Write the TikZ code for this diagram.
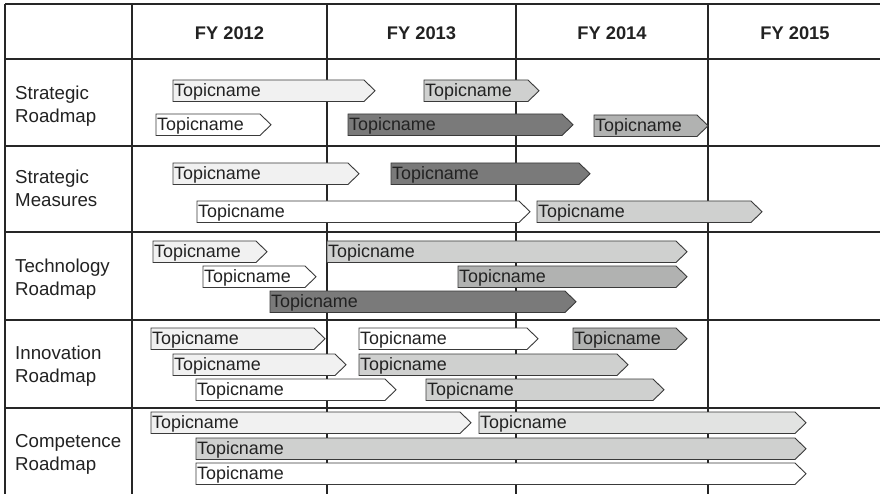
\documentclass[tikz,border=0pt]{standalone}
\usepackage{fontspec}
\setmainfont{Liberation Sans}
\definecolor{gridc}{HTML}{262626}
\definecolor{barc}{HTML}{3A3A3A}
\definecolor{txtc}{HTML}{222222}
\definecolor{lightest}{HTML}{F1F1F1}
\definecolor{pale}{HTML}{E2E3E2}
\definecolor{lgray}{HTML}{CFD0CF}
\definecolor{mid}{HTML}{B1B2B1}
\definecolor{dark}{HTML}{7A7A7A}
% one roadmap bar: #1 name, #2 left x, #3 tip x, #4 top y, #5 fill colour
\newcommand\topicbar[5]{%
  \draw[barline, fill=#5] (#2,#4) -- (#3-11,#4) -- (#3,#4+10.75)
    -- (#3-11,#4+21.5) -- (#2,#4+21.5) -- cycle;
  \node[topic] (#1) at (#2+1,#4+16.7) {Topicname};}
\begin{document}
\begin{tikzpicture}[x=1pt,y=-1pt,
  gridline/.style={draw=gridc, line width=1.8pt},
  barline/.style={draw=barc, line width=0.9pt},
  topic/.style={anchor=base west, inner sep=0pt, text=txtc,
    font=\fontsize{17.9}{20}\selectfont},
  yearhead/.style={anchor=base, inner sep=0pt, text=txtc,
    font=\fontsize{18.3}{21}\selectfont\bfseries},
  rowlabel/.style={anchor=base west, inner sep=0pt, align=left, text=txtc,
    font=\fontsize{18.7}{23}\selectfont}]
\useasboundingbox[fill=white] (0,0) rectangle (880,494);

% table grid
\foreach \yy in {4,59,146,232,320,408}
  \draw[gridline] (5,\yy) -- (880,\yy);
\foreach \xx in {5,132,327,516,708}
  \draw[gridline] (\xx,4) -- (\xx,494);

% column headings
\node[yearhead] (fy12) at (229.5,40) {FY 2012};
\node[yearhead] (fy13) at (421.5,40) {FY 2013};
\node[yearhead] (fy14) at (612,40) {FY 2014};
\node[yearhead] (fy15) at (795,40) {FY 2015};

% row headings (anchored on the baseline of the second line)
\node[rowlabel] (r1) at (15,122.5) {Strategic\\Roadmap};
\node[rowlabel] (r2) at (15,207) {Strategic\\Measures};
\node[rowlabel] (r3) at (15,295) {Technology\\Roadmap};
\node[rowlabel] (r4) at (15,382.5) {Innovation\\Roadmap};
\node[rowlabel] (r5) at (15,470) {Competence\\Roadmap};

% Strategic Roadmap
\topicbar{sr1}{173}{375}{80}{lightest}
\topicbar{sr2}{424}{539}{80}{lgray}
\topicbar{sr3}{156}{271}{114}{white}
\topicbar{sr4}{348}{573}{114}{dark}
\topicbar{sr5}{594}{708}{115}{mid}

% Strategic Measures
\topicbar{sm1}{173}{359}{163}{lightest}
\topicbar{sm2}{391}{590}{163}{dark}
\topicbar{sm3}{197}{530}{201}{white}
\topicbar{sm4}{537}{762}{201}{lgray}

% Technology Roadmap
\topicbar{tr1}{153}{267}{241}{lightest}
\topicbar{tr2}{327}{687}{241}{lgray}
\topicbar{tr3}{203}{316}{266}{white}
\topicbar{tr4}{458}{687}{266}{mid}
\topicbar{tr5}{270}{576}{291}{dark}

% Innovation Roadmap
\topicbar{ir1}{151}{325}{328}{lightest}
\topicbar{ir2}{359}{538}{328}{white}
\topicbar{ir3}{573}{687}{328}{mid}
\topicbar{ir4}{173}{346}{354}{lightest}
\topicbar{ir5}{359}{628}{354}{lgray}
\topicbar{ir6}{196}{396}{379}{white}
\topicbar{ir7}{426}{664}{379}{lgray}

% Competence Roadmap
\topicbar{cr1}{151}{471}{412}{lightest}
\topicbar{cr2}{479}{806}{412}{pale}
\topicbar{cr3}{196}{806}{438}{lgray}
\topicbar{cr4}{196}{806}{463}{white}
\end{tikzpicture}
\end{document}
